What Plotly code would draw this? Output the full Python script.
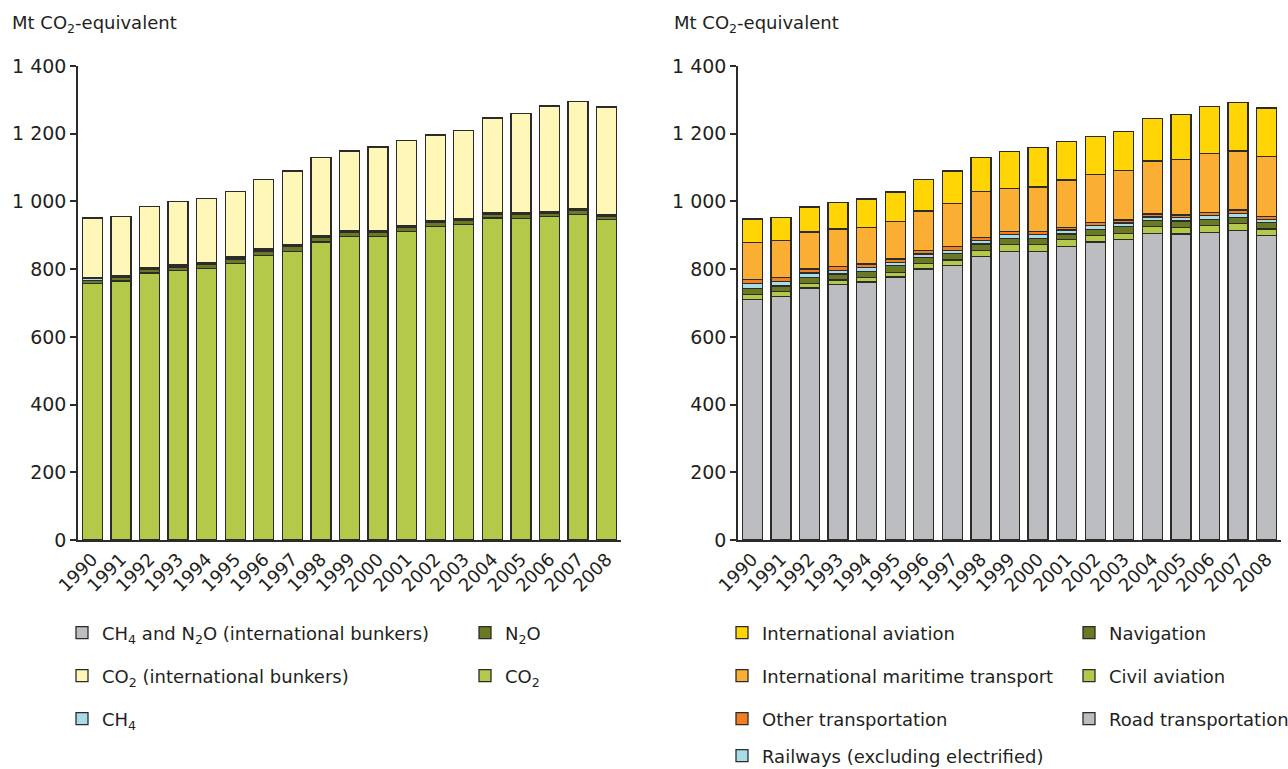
import plotly.graph_objects as go

years = [str(y) for y in range(1990, 2009)]

# Left chart: by gas (Mt CO2-equivalent)
co2 = [758, 765, 789, 796, 802, 817, 841, 853, 880, 897, 897, 911, 925, 932, 951, 950, 955, 962, 947]
n2o = [9, 10, 10, 10, 11, 13, 13, 13, 14, 13, 13, 12, 12, 12, 12, 11, 11, 11, 10]
ch4 = [5, 5, 4, 4, 4, 4, 4, 3, 3, 3, 3, 3, 3, 3, 3, 3, 3, 3, 3]
ch4_n2o_bunkers = [2, 2, 2, 2, 2, 2, 2, 2, 2, 2, 2, 2, 2, 2, 2, 2, 2, 2, 2]
co2_bunkers = [177, 174, 181, 188, 189, 194, 205, 219, 231, 234, 246, 252, 254, 260, 278, 293, 311, 317, 317]

# Right chart: by mode
road = [711, 719, 744, 754, 762, 777, 800, 811, 838, 853, 853, 867, 880, 888, 906, 904, 909, 915, 900]
civil_aviation = [15, 14, 14, 14, 14, 14, 17, 16, 17, 19, 20, 20, 20, 18, 19, 19, 19, 20, 19]
navigation = [17, 17, 18, 18, 17, 19, 18, 20, 19, 19, 18, 17, 18, 19, 18, 19, 19, 18, 18]
railways = [14, 14, 13, 11, 12, 10, 10, 9, 10, 11, 11, 12, 10, 11, 11, 10, 11, 12, 10]
other_transport = [13, 12, 11, 10, 10, 10, 10, 10, 9, 9, 9, 8, 9, 9, 9, 8, 9, 10, 8]
intl_maritime = [109, 109, 110, 112, 109, 111, 117, 128, 137, 127, 132, 139, 143, 146, 156, 164, 175, 174, 178]
intl_aviation = [69, 68, 74, 78, 83, 87, 93, 96, 100, 109, 117, 114, 112, 115, 125, 133, 138, 144, 143]

y_tickvals = [0, 200, 400, 600, 800, 1000, 1200, 1400]
y_ticktext = ["0", "200", "400", "600", "800", "1 000", "1 200", "1 400"]

W, H = 1288, 769
FONT = "DejaVu Sans, Verdana, sans-serif"
TXT = "#231f20"
LINE = "#2b2b2b"

fig = go.Figure()

def add_bar(y, name, color, xa, ya, legend, rank):
    fig.add_trace(go.Bar(
        x=years, y=y, name=name, xaxis=xa, yaxis=ya,
        marker=dict(color=color, line=dict(color=LINE, width=1.3)),
        legend=legend, legendrank=rank,
    ))

# Left stack (bottom -> top)
add_bar(co2, "CO<sub>2</sub>", "#B4C84A", "x", "y", "legend2", 2)
add_bar(n2o, "N<sub>2</sub>O", "#6B7A22", "x", "y", "legend", 2)
add_bar(ch4, "CH<sub>4</sub>", "#A8DCE6", "x", "y", "legend3", 1)
add_bar(ch4_n2o_bunkers, "CH<sub>4</sub> and N<sub>2</sub>O (international bunkers)", "#BDBEC2", "x", "y", "legend", 1)
add_bar(co2_bunkers, "CO<sub>2</sub> (international bunkers)", "#FFF7B8", "x", "y", "legend2", 1)

# Right stack (bottom -> top)
add_bar(road, "Road transportation", "#BCBDC1", "x2", "y2", "legend6", 2)
add_bar(civil_aviation, "Civil aviation", "#B4C84A", "x2", "y2", "legend5", 2)
add_bar(navigation, "Navigation", "#6B7A22", "x2", "y2", "legend4", 2)
add_bar(railways, "Railways (excluding electrified)", "#A8DCE6", "x2", "y2", "legend7", 1)
add_bar(other_transport, "Other transportation", "#F37F20", "x2", "y2", "legend6", 1)
add_bar(intl_maritime, "International maritime transport", "#FBAE34", "x2", "y2", "legend5", 1)
add_bar(intl_aviation, "International aviation", "#FFD506", "x2", "y2", "legend4", 1)

ydom = [1 - 540 / H, 1 - 66 / H]
xaxis_common = dict(
    type="category", range=[-0.5, 18.5], showline=True, linecolor=LINE, linewidth=1.5,
    ticks="", tickangle=-45, tickfont=dict(size=18, color=TXT, family=FONT),
    showgrid=False, zeroline=False, automargin=False, fixedrange=True,
)
yaxis_common = dict(
    range=[0, 1400], tickvals=y_tickvals, ticktext=y_ticktext, showline=True,
    linecolor=LINE, linewidth=1.5, ticks="outside", ticklen=6, tickcolor=LINE, tickwidth=1.5,
    tickfont=dict(size=19, color=TXT, family=FONT), showgrid=False, zeroline=False,
    automargin=False, domain=ydom, fixedrange=True,
)

legend_common = dict(
    orientation="h", xanchor="left", yanchor="middle", traceorder="normal",
    font=dict(size=18, color=TXT, family=FONT), bgcolor="rgba(0,0,0,0)",
    entrywidthmode="pixels",
)

def leg(x_px, y_px, ew):
    d = dict(legend_common)
    d.update(x=(x_px - 16) / W, y=1 - y_px / H, entrywidth=ew)
    return d

fig.update_layout(
    width=W, height=H,
    margin=dict(l=0, r=0, t=0, b=0, autoexpand=False),
    paper_bgcolor="white", plot_bgcolor="white",
    barmode="stack", bargap=0.3,
    font=dict(family=FONT, size=18, color=TXT),
    xaxis=dict(xaxis_common, domain=[78 / W, 621 / W], anchor="y"),
    yaxis=dict(yaxis_common, anchor="x"),
    xaxis2=dict(xaxis_common, domain=[738 / W, 1281 / W], anchor="y2"),
    yaxis2=dict(yaxis_common, anchor="x2"),
    legend=leg(78, 633, 358),
    legend2=leg(78, 676, 358),
    legend3=leg(78, 719, 358),
    legend4=leg(738, 633, 302),
    legend5=leg(738, 676, 302),
    legend6=leg(738, 719, 302),
    legend7=leg(738, 756, 302),
    annotations=[
        dict(text="Mt CO<sub>2</sub>-equivalent", x=10 / W, y=1 - 24 / H, xref="paper", yref="paper",
             xanchor="left", yanchor="middle", showarrow=False, font=dict(size=18, color=TXT, family=FONT)),
        dict(text="Mt CO<sub>2</sub>-equivalent", x=672 / W, y=1 - 24 / H, xref="paper", yref="paper",
             xanchor="left", yanchor="middle", showarrow=False, font=dict(size=18, color=TXT, family=FONT)),
    ],
)

fig.write_html("out.html", config={"displayModeBar": False},
               post_script="document.body.style.margin='0';document.body.style.overflow='hidden';")
